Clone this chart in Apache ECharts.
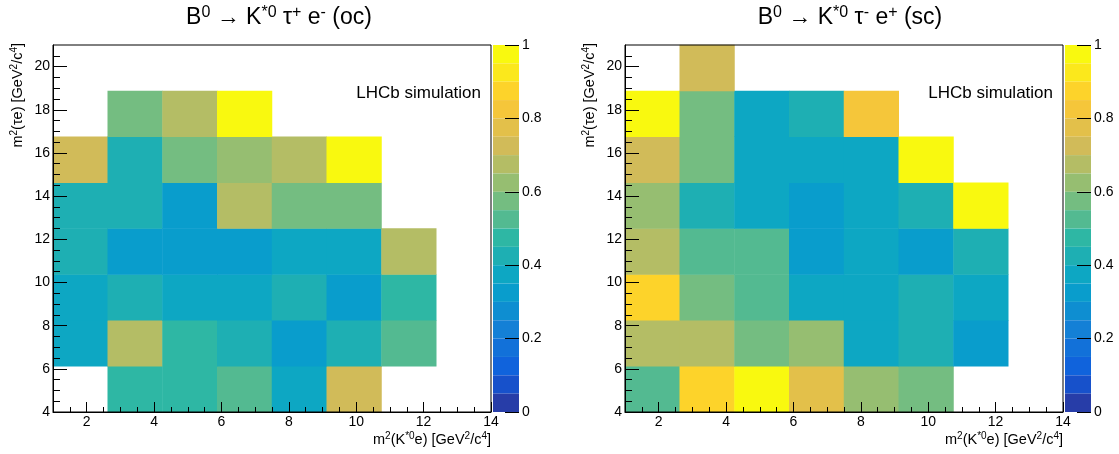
<!DOCTYPE html>
<html><head><meta charset="utf-8">
<script src="https://cdn.jsdelivr.net/npm/echarts@6/dist/echarts.min.js"></script>
<style>html,body{margin:0;padding:0;background:#fff}#c{width:1119px;height:454px}</style>
</head><body><div id="c"></div>
<script>
// ---------------- data ----------------
// bin centres of the 8 x bins (m2(K*0 e), 1..14) and 8 y bins (m2(tau e), 4..21)
const xBins = ['1.81', '3.44', '5.06', '6.69', '8.31', '9.94', '11.56', '13.19'];
const yBins = ['5.06', '7.19', '9.31', '11.44', '13.56', '15.69', '17.81', '19.94'];
const xRange = [1, 14];
const yRange = [4, 21];
const zRange = [0, 1];
const xTickLabels = [2, 4, 6, 8, 10, 12, 14];
const yTickLabels = [4, 6, 8, 10, 12, 14, 16, 18, 20];
const xMinorTicks = [1.5, 2, 2.5, 3, 3.5, 4, 4.5, 5, 5.5, 6, 6.5, 7, 7.5, 8, 8.5, 9, 9.5, 10, 10.5, 11, 11.5, 12, 12.5, 13, 13.5, 14];
const yMinorTicks = [4, 4.5, 5, 5.5, 6, 6.5, 7, 7.5, 8, 8.5, 9, 9.5, 10, 10.5, 11, 11.5, 12, 12.5, 13, 13.5, 14, 14.5, 15, 15.5, 16, 16.5, 17, 17.5, 18, 18.5, 19, 19.5, 20, 20.5];
const zTickLabels = [0, 0.2, 0.4, 0.6, 0.8, 1];
const zLevels = [0, 0.05, 0.1, 0.15, 0.2, 0.25, 0.3, 0.35, 0.4, 0.45, 0.5, 0.55, 0.6, 0.65, 0.7, 0.75, 0.8, 0.85, 0.9, 0.95, 1];

// rows from bottom (y bin 0) to top (y bin 7); columns x bin 0..7; null = empty
const ocValues = [
  [null, 0.47, 0.47, 0.52, 0.37, 0.72, null, null],
  [0.37, 0.68, 0.47, 0.42, 0.32, 0.42, 0.52, null],
  [0.37, 0.42, 0.37, 0.37, 0.42, 0.32, 0.47, null],
  [0.42, 0.32, 0.32, 0.32, 0.37, 0.37, 0.68, null],
  [0.42, 0.42, 0.32, 0.68, 0.57, 0.57, null, null],
  [0.72, 0.42, 0.57, 0.62, 0.68, 0.98, null, null],
  [null, 0.57, 0.68, 1.00, null, null, null, null],
  [null, null, null, null, null, null, null, null]
];
const scValues = [
  [0.52, 0.88, 1.00, 0.78, 0.62, 0.57, null, null],
  [0.68, 0.68, 0.57, 0.62, 0.37, 0.42, 0.32, null],
  [0.88, 0.57, 0.52, 0.37, 0.37, 0.42, 0.37, null],
  [0.68, 0.52, 0.52, 0.32, 0.37, 0.32, 0.42, null],
  [0.62, 0.42, 0.37, 0.32, 0.37, 0.42, 0.98, null],
  [0.72, 0.57, 0.37, 0.37, 0.37, 1.00, null, null],
  [1.00, 0.57, 0.37, 0.42, 0.83, null, null, null],
  [null, 0.72, null, null, null, null, null, null]
];

// ---------------- style ----------------
const FONT = "'Liberation Sans', Arial, Helvetica, sans-serif";
const palette = ['#273da8', '#1751cb', '#1063dc', '#1271d9', '#1480d6', '#0e8ed1', '#099dcc', '#0da7c3', '#1eafb3', '#2eb7a4',
                 '#53ba91', '#74bd81', '#96be71', '#b4bd65', '#d1bb59', '#e3c04a', '#f5c63a', '#fdd32a', '#fbe81c', '#f9f90f'];
const pieces = palette.map((c, i) => (i === palette.length - 1)
  ? { gte: zLevels[i], lte: zLevels[i + 1], color: c }
  : { gte: zLevels[i], lt: zLevels[i + 1], color: c });

function toCells(rows) {
  const d = [];
  rows.forEach((row, yi) => row.forEach((v, xi) => { if (v !== null) d.push([xi, yi, v]); }));
  return d;
}

const panels = [
  { values: ocValues, frameLeft: 53, cbarLeft: 493, titleX: 279, tag: 'oc', charge: ['+', '-'], yTitleX: 17.5 },
  { values: scValues, frameLeft: 625, cbarLeft: 1065, titleX: 850, tag: 'sc', charge: ['-', '+'], yTitleX: 589.5 }
];
const TOP = 45, H = 367, W = 438, CBW = 26;

const grids = [], xAxes = [], yAxes = [], series = [], visualMaps = [], titles = [], graphics = [];
const black = { color: '#000', width: 1 };
const lbl = { color: '#000', fontSize: 14, fontFamily: FONT };

panels.forEach((p, k) => {
  const g = grids.length;
  grids.push({ left: p.frameLeft, top: TOP, width: W, height: H, show: true, borderColor: '#000', borderWidth: 1, backgroundColor: 'transparent', z: 4 });
  const xi = xAxes.length, yi = yAxes.length;
  xAxes.push({ type: 'category', gridIndex: g, data: xBins, show: false });
  xAxes.push({ type: 'value', gridIndex: g, min: xRange[0], max: xRange[1], position: 'bottom', z: 6,
    axisLine: { show: true, onZero: false, lineStyle: black },
    axisTick: { show: true, inside: true, length: 10, customValues: xTickLabels, lineStyle: black },
    axisLabel: { customValues: xTickLabels, margin: 3, ...lbl }, splitLine: { show: false } });
  xAxes.push({ type: 'value', gridIndex: g, min: xRange[0], max: xRange[1], position: 'bottom', z: 6,
    axisLine: { show: false, onZero: false },
    axisTick: { show: true, inside: true, length: 5, customValues: xMinorTicks, lineStyle: black },
    axisLabel: { show: false }, splitLine: { show: false } });
  yAxes.push({ type: 'category', gridIndex: g, data: yBins, show: false });
  yAxes.push({ type: 'value', gridIndex: g, min: yRange[0], max: yRange[1], position: 'left', z: 6,
    axisLine: { show: true, onZero: false, lineStyle: black },
    axisTick: { show: true, inside: true, length: 14, customValues: yTickLabels, lineStyle: black },
    axisLabel: { customValues: yTickLabels, margin: 3, ...lbl }, splitLine: { show: false } });
  yAxes.push({ type: 'value', gridIndex: g, min: yRange[0], max: yRange[1], position: 'left', z: 6,
    axisLine: { show: false, onZero: false },
    axisTick: { show: true, inside: true, length: 7, customValues: yMinorTicks, lineStyle: black },
    axisLabel: { show: false }, splitLine: { show: false } });

  // colour-bar axis grid
  const cg = grids.length;
  grids.push({ left: p.cbarLeft, top: TOP, width: CBW, height: H, show: false });
  xAxes.push({ type: 'value', gridIndex: cg, min: 0, max: 1, show: false });
  yAxes.push({ type: 'value', gridIndex: cg, min: zRange[0], max: zRange[1], position: 'right', z: 10,
    axisLine: { show: false, onZero: false },
    axisTick: { show: true, inside: true, length: 14, customValues: zTickLabels, lineStyle: black },
    axisLabel: { customValues: zTickLabels, margin: 3, ...lbl, formatter: v => String(v) }, splitLine: { show: false } });

  series.push({ type: 'heatmap', xAxisIndex: xi, yAxisIndex: yi, data: toCells(p.values),
    itemStyle: { borderWidth: 0 }, emphasis: { disabled: true }, label: { show: false }, z: 2 });

  visualMaps.push({ type: 'piecewise', seriesIndex: k, pieces: pieces, orient: 'vertical',
    left: p.cbarLeft, top: TOP, itemWidth: CBW, itemHeight: H / palette.length, itemGap: 0,
    itemSymbol: 'rect', showLabel: false, padding: 0, selectedMode: false, hoverLink: false, z: 4 });

  const tRich = {
    b: { fontSize: 23, fontWeight: 'normal', fontFamily: FONT, color: '#000', lineHeight: 26 },
    s: { fontSize: 16, fontWeight: 'normal', fontFamily: FONT, color: '#000', lineHeight: 15, verticalAlign: 'top' }
  };
  titles.push({ text: `{b|B}{s|0}{b| → K}{s|*0}{b| τ}{s|${p.charge[0]}}{b| e}{s|${p.charge[1]}}{b| (${p.tag})}`,
    left: p.titleX, top: 5, textAlign: 'center', textVerticalAlign: 'top', padding: 0,
    textStyle: { fontWeight: 'normal', rich: tRich } });
  titles.push({ text: 'LHCb simulation', left: p.frameLeft + W - 10, top: 83, textAlign: 'right', textVerticalAlign: 'top', padding: 0,
    textStyle: { fontSize: 17, fontWeight: 'normal', fontFamily: FONT, color: '#000', lineHeight: 20 } });
  const aRich = {
    b: { fontSize: 14.5, fontWeight: 'normal', fontFamily: FONT, color: '#000', lineHeight: 17 },
    s: { fontSize: 10, fontWeight: 'normal', fontFamily: FONT, color: '#000', lineHeight: 10, verticalAlign: 'top' }
  };
  titles.push({ text: '{b|m}{s|2}{b|(K}{s|*0}{b|e) [GeV}{s|2}{b|/c}{s|4}{b|]}',
    left: p.frameLeft + W, top: 431, textAlign: 'right', textVerticalAlign: 'top', padding: 0,
    textStyle: { fontWeight: 'normal', rich: aRich } });
  const gRich = {
    b: { fontSize: 14.5, fontWeight: 'normal', fontFamily: FONT, fill: '#000', lineHeight: 17 },
    s: { fontSize: 10, fontWeight: 'normal', fontFamily: FONT, fill: '#000', lineHeight: 10, verticalAlign: 'top' }
  };
  graphics.push({ type: 'text', x: p.yTitleX, y: 43, rotation: Math.PI / 2,
    style: { text: '{b|m}{s|2}{b|(τe) [GeV}{s|2}{b|/c}{s|4}{b|]}', rich: gRich, align: 'right', verticalAlign: 'middle' } });
});

const chart = echarts.init(document.getElementById('c'), null, { renderer: 'canvas' });
chart.setOption({
  animation: false,
  backgroundColor: '#fff',
  title: titles,
  grid: grids,
  xAxis: xAxes,
  yAxis: yAxes,
  visualMap: visualMaps,
  series: series,
  graphic: graphics
});
</script>
</body></html>
